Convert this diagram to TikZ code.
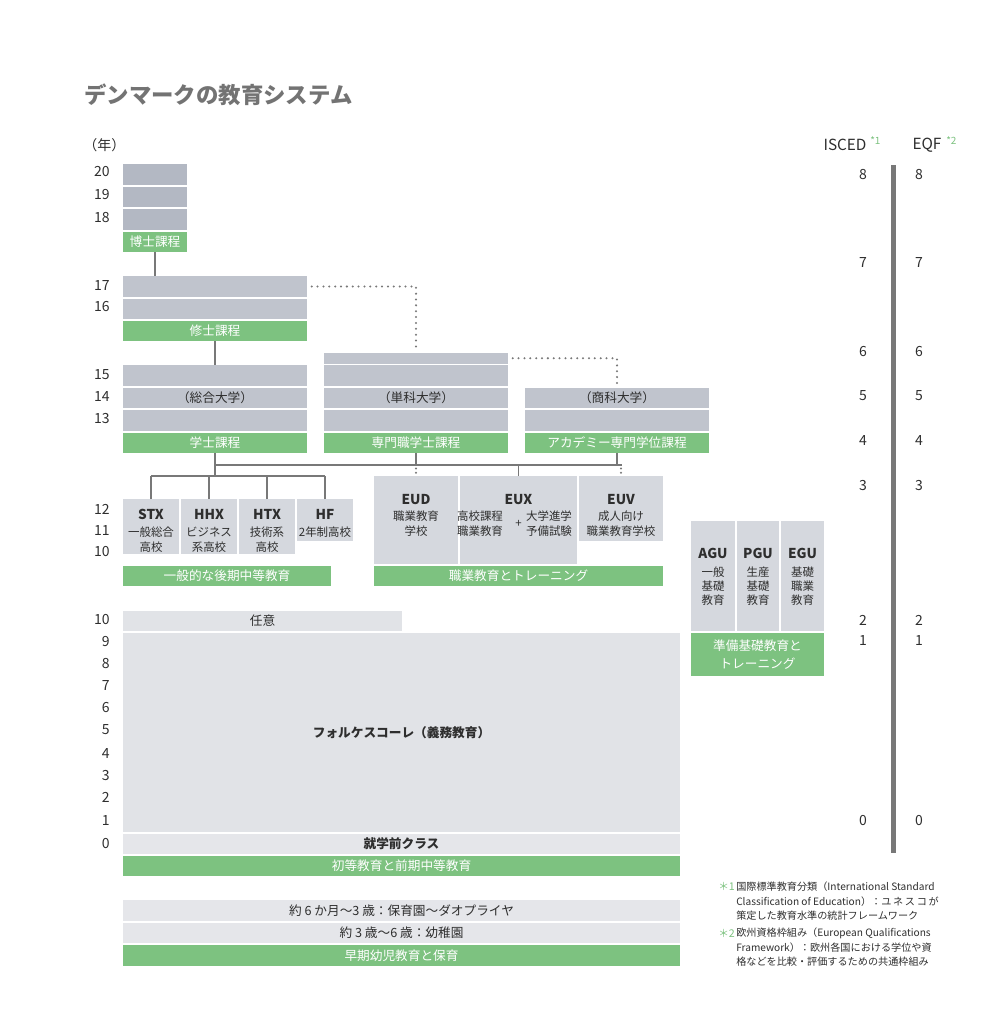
\documentclass[tikz,border=0pt]{standalone}
\usepackage{fontspec}
\setmainfont{Noto Sans CJK JP}
\usetikzlibrary{calc}
\definecolor{grn}{HTML}{7DC280}
\definecolor{gA}{HTML}{B3B8C3}
\definecolor{gB}{HTML}{C0C4CD}
\definecolor{gC}{HTML}{D5D8DE}
\definecolor{gD}{HTML}{E1E3E7}
\definecolor{gE}{HTML}{E5E6EA}
\definecolor{ln}{HTML}{787878}
\definecolor{txt}{HTML}{2E2E2E}
\definecolor{ttl}{HTML}{737373}
\newcommand\bx[7]{\node[#2, minimum width={(#5-#3)*0.75pt}, minimum height={(#6-#4)*0.75pt}] (#1) at ({(#3+#5)/2},{(#4+#6)/2}) {#7};}
\tikzset{
  blk/.style={inner sep=0pt, outer sep=0pt, draw=none, text=txt, font=\fontsize{9.5}{11}\selectfont},
  gb/.style={blk, fill=grn, text=white},
  bA/.style={blk, fill=gA},
  bB/.style={blk, fill=gB},
  bC/.style={blk, fill=gC},
  bD/.style={blk, fill=gD},
  bE/.style={blk, fill=gE},
  yr/.style={anchor=east, inner sep=0pt, text=txt, font=\fontsize{10.5}{12}\selectfont},
  lv/.style={inner sep=0pt, text=txt, font=\fontsize{10.5}{12}\selectfont},
  hd/.style={inner sep=0pt, text=txt, font=\bfseries\fontsize{10.2}{12}\selectfont},
  sm/.style={inner sep=0pt, text=txt, align=center, font=\fontsize{8.6}{11.2}\selectfont},
  smA/.style={inner sep=0pt, text=txt, align=center, font=\fontsize{8.6}{10.7}\selectfont},
  fn/.style={anchor=west, inner sep=0pt, text=txt, font=\fontsize{7.6}{10}\selectfont},
  fnm/.style={anchor=west, inner sep=0pt, text=grn, font=\fontsize{8}{10}\selectfont},
  conn/.style={draw=ln, line width=1.1pt},
  dots/.style={draw=ln, line width=1.7pt, line cap=round, dash pattern=on 0pt off 4.4pt},
}
\begin{document}
\begin{tikzpicture}[x=0.75pt, y=-0.75pt]
\useasboundingbox (0,0) rectangle (1003,1024);
% title
\node[anchor=west, inner sep=0pt, text=ttl, font=\bfseries\fontsize{16.8}{20}\selectfont] (title) at (84,95) {デンマークの教育システム};
\node[anchor=west, inner sep=0pt, text=txt, font=\fontsize{10.5}{12}\selectfont] (nen) at (83,145) {（年）};
% ISCED / EQF headings
\node[inner sep=0pt, text=txt, font=\fontsize{11.5}{13}\selectfont] (isced) at (845,145) {ISCED};
\node[anchor=west, inner sep=0pt, text=grn, font=\fontsize{7.5}{8}\selectfont] (s1) at (870,141) {*1};
\node[inner sep=0pt, text=txt, font=\fontsize{11.5}{13}\selectfont] (eqf) at (927,145) {EQF};
\node[anchor=west, inner sep=0pt, text=grn, font=\fontsize{7.5}{8}\selectfont] (s2) at (946,141) {*2};
\bx{bar}{blk, fill=ln}{891}{165}{896}{853}{}
\foreach \v/\y [count=\i] in {8/175,7/263,6/352,5/396,4/441,3/486,2/620,1/641,0/820}{
  \node[lv] (is\i) at (863,\y) {\v};
  \node[lv] (eq\i) at (919,\y) {\v};
}
% years
\foreach \v/\y [count=\i] in {20/172,19/195,18/218,17/286,16/307,15/375,14/397,13/419,12/509,11/531,10/552,10/620,9/642,8/664,7/686,6/708,5/730,4/753,3/775,2/797,1/820,0/843}{
  \node[yr] (yr\i) at (110,\y) {\v};
}
% doctor
\bx{d20}{bA}{123}{164}{187}{185}{}
\bx{d19}{bA}{123}{187}{187}{207}{}
\bx{d18}{bA}{123}{209}{187}{230}{}
\bx{dg}{gb}{123}{231.5}{187}{252}{博士課程}
% master
\bx{m17}{bB}{123}{276}{307}{297}{}
\bx{m16}{bB}{123}{298.5}{307}{319}{}
\bx{mg}{gb}{123}{320.5}{307}{341}{修士課程}
% bachelor (sogo)
\bx{b15}{bB}{123}{365}{307}{386}{}
\bx{b14}{bB}{123}{387.5}{307}{408}{（総合大学）}
\bx{b13}{bB}{123}{410}{307}{431}{}
\bx{bg}{gb}{123}{432.5}{307}{453}{学士課程}
% tanka
\bx{s0}{bB}{324}{353}{508}{363.5}{}
\bx{s15}{bB}{324}{365}{508}{386}{}
\bx{s14}{bB}{324}{387.5}{508}{408}{（単科大学）}
\bx{s13}{bB}{324}{410}{508}{431}{}
\bx{sg}{gb}{324}{432.5}{508}{453}{専門職学士課程}
% shoka
\bx{c14}{bB}{525}{387.5}{709}{408}{（商科大学）}
\bx{c13}{bB}{525}{410}{709}{431}{}
\bx{cg}{gb}{525}{432.5}{709}{453}{アカデミー専門学位課程}
% upper secondary general
\bx{stx}{bC}{123}{499}{179}{554}{}
\bx{hhx}{bC}{181}{499}{237}{554}{}
\bx{htx}{bC}{239}{499}{295}{554}{}
\bx{hf}{bC}{297}{499}{353}{541}{}
\bx{ug}{gb}{123}{566}{331}{586}{一般的な後期中等教育}
\node[hd] (stxH) at (151,514) {STX};
\node[sm] (stxT) at (151,540) {一般総合\\高校};
\node[hd] (hhxH) at (209,514) {HHX};
\node[sm] (hhxT) at (209,540) {ビジネス\\系高校};
\node[hd] (htxH) at (267,514) {HTX};
\node[sm] (htxT) at (267,540) {技術系\\高校};
\node[hd] (hfH) at (325,514) {HF};
\node[sm] (hfT) at (325,532) {2年制高校};
% vocational
\bx{eud}{bC}{374}{476}{458}{564}{}
\bx{eux}{bC}{460}{476}{577}{564}{}
\bx{euv}{bC}{579}{476}{663}{541}{}
\bx{vg}{gb}{374}{566}{663}{586}{職業教育とトレーニング}
\node[hd] (eudH) at (416,500) {EUD};
\node[sm] (eudT) at (416,524) {職業教育\\学校};
\node[hd] (euxH) at (518.5,500) {EUX};
\node[sm] (euxT1) at (480,524) {高校課程\\職業教育};
\node[sm] (euxP) at (518.5,524) {+};
\node[sm] (euxT2) at (549,524) {大学進学\\予備試験};
\node[hd] (euvH) at (621,500) {EUV};
\node[sm] (euvT) at (621,524) {成人向け\\職業教育学校};
% preparatory
\bx{agu}{bC}{691}{521}{735}{631}{}
\bx{pgu}{bC}{737}{521}{779}{631}{}
\bx{egu}{bC}{781}{521}{824}{631}{}
\bx{fg}{gb, align=center, font=\fontsize{9.5}{13.4}\selectfont}{691}{632.5}{824}{676}{準備基礎教育と\\トレーニング}
\node[hd] (aguH) at (713,553) {AGU};
\node[smA] (aguT) at (713,586) {一般\\基礎\\教育};
\node[hd] (pguH) at (758,553) {PGU};
\node[smA] (pguT) at (758,586) {生産\\基礎\\教育};
\node[hd] (eguH) at (802.5,553) {EGU};
\node[smA] (eguT) at (802.5,586) {基礎\\職業\\教育};
% compulsory
\bx{nini}{bD}{123}{611}{402}{631}{任意}
\bx{folk}{bD, font=\bfseries\fontsize{9.5}{11}\selectfont}{123}{633}{680}{832}{フォルケスコーレ（義務教育）}
\bx{pre}{bE, font=\bfseries\fontsize{9.5}{11}\selectfont}{123}{834}{680}{854}{就学前クラス}
\bx{pg}{gb}{123}{856}{680}{876}{初等教育と前期中等教育}
% early childhood
\bx{n1}{bE}{123}{900}{680}{921}{約 6 か月〜3 歳：保育園〜ダオプライヤ}
\bx{n2}{bE}{123}{922.5}{680}{943}{約 3 歳〜6 歳：幼稚園}
\bx{eg}{gb}{123}{945}{680}{966}{早期幼児教育と保育}
% connectors
\coordinate (hR) at (622,465);
\coordinate (lbL) at (151,476);
\coordinate (lbR) at (325,476);
\draw[conn] (dg.south) -- (dg.south |- m17.north);
\draw[conn] (mg.south) -- (mg.south |- b15.north);
\draw[dots] ([xshift=3.5pt]m17.east) -| ([yshift=2pt]s0.north);
\draw[dots] ([xshift=3.5pt]s0.east) -| ([yshift=2pt]c14.north);
\draw[conn] (bg.south) -- (bg.south |- lbL);
\draw[conn] (bg.south |- hR) -- (hR);
\draw[conn] (sg.south) -- (sg.south |- hR);
\draw[conn] (cg.south) -- (cg.south |- hR);
\draw[conn] (eux.north) -- (eux.north |- hR);
\draw[dots, dash pattern=on 0pt off 3.2pt] ([yshift=-2.6pt]sg.south |- hR) -- ([yshift=1.5pt]eud.north);
\draw[dots, dash pattern=on 0pt off 3.2pt] ([yshift=-2.6pt]euv.north |- hR) -- ([yshift=1.5pt]euv.north);
\draw[conn] (lbL) -- (lbR);
\draw[conn] (stx.north) -- (stx.north |- lbL);
\draw[conn] (hhx.north) -- (hhx.north |- lbL);
\draw[conn] (htx.north) -- (htx.north |- lbL);
\draw[conn] (hf.north) -- (hf.north |- lbL);
% footnotes
\node[fnm] (f1m) at (718,886.5) {＊1};
\node[fn] (f1a) at (736,886.5) {国際標準教育分類（International Standard};
\node[fn] (f1b) at (736,901.5) {Classification of Education）：ユ\,ネ\,ス\,コ\,が};
\node[fn] (f1c) at (736,916) {策定した教育水準の統計フレームワーク};
\node[fnm] (f2m) at (718,933.5) {＊2};
\node[fn] (f2a) at (736,933.5) {欧州資格枠組み（European Qualifications};
\node[fn] (f2b) at (736,948) {Framework）：欧州各国における学位や資};
\node[fn] (f2c) at (736,962) {格などを比較・評価するための共通枠組み};
\end{tikzpicture}
\end{document}
